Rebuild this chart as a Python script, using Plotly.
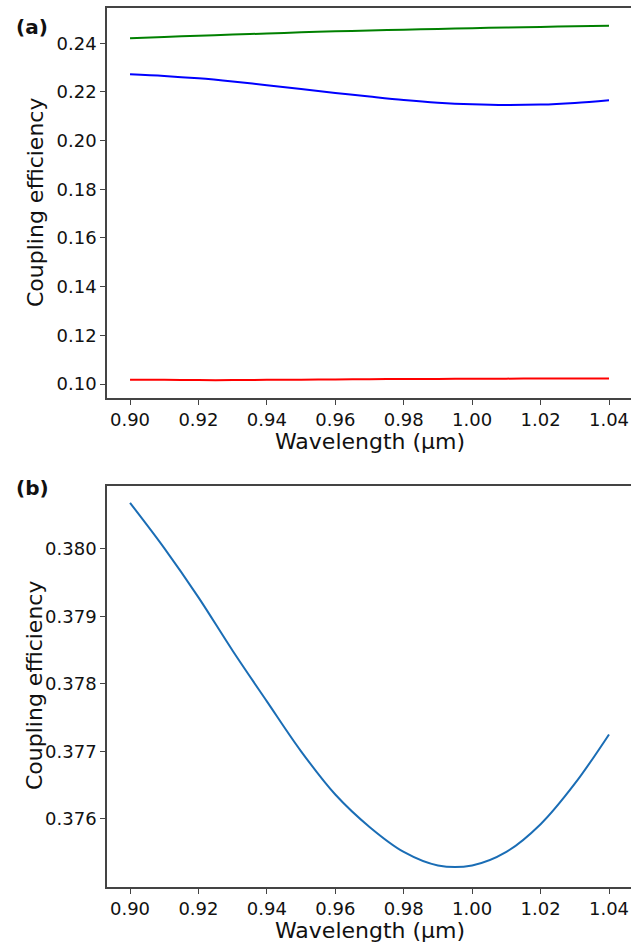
import plotly.graph_objects as go

# Panel (a): coupling efficiency of three channels vs wavelength
wl_a = [0.90, 0.91, 0.92, 0.93, 0.94, 0.95, 0.96, 0.97, 0.98, 0.99, 1.00, 1.01, 1.02, 1.03, 1.04]
green_a = [0.2421, 0.2426, 0.2431, 0.2436, 0.2440, 0.2445, 0.2449, 0.2453, 0.2456, 0.2459,
           0.2462, 0.2465, 0.2467, 0.2470, 0.2472]
blue_a = [0.2273, 0.2266, 0.2256, 0.2243, 0.2228, 0.2212, 0.2196, 0.2181, 0.2167, 0.2156,
          0.2149, 0.2146, 0.2148, 0.2155, 0.2166]
red_a = [0.1018, 0.1017, 0.1016, 0.1016, 0.1017, 0.1018, 0.1019, 0.1020, 0.1021, 0.1021,
         0.1022, 0.1022, 0.1023, 0.1023, 0.1023]

# Panel (b): single coupling-efficiency curve
wl_b = [0.90, 0.91, 0.92, 0.93, 0.94, 0.95, 0.96, 0.97, 0.98, 0.99, 1.00, 1.01, 1.02, 1.03, 1.04]
eff_b = [0.38068, 0.38001, 0.37928, 0.37849, 0.37774, 0.37700, 0.37636, 0.37588, 0.37551,
         0.37531, 0.37531, 0.37551, 0.37592, 0.37652, 0.37725]

x_ticks = [0.90, 0.92, 0.94, 0.96, 0.98, 1.00, 1.02, 1.04]
y_ticks_a = [0.10, 0.12, 0.14, 0.16, 0.18, 0.20, 0.22, 0.24]
y_ticks_b = [0.376, 0.377, 0.378, 0.379, 0.380]

W, H = 631, 948
FONT = "DejaVu Sans"

fig = go.Figure()
fig.add_trace(go.Scatter(x=wl_a, y=green_a, mode="lines", line=dict(color="#008000", width=2, shape="spline"),
                         xaxis="x", yaxis="y", showlegend=False))
fig.add_trace(go.Scatter(x=wl_a, y=blue_a, mode="lines", line=dict(color="#0000ff", width=2, shape="spline"),
                         xaxis="x", yaxis="y", showlegend=False))
fig.add_trace(go.Scatter(x=wl_a, y=red_a, mode="lines", line=dict(color="#ff0000", width=2, shape="spline"),
                         xaxis="x", yaxis="y", showlegend=False))
fig.add_trace(go.Scatter(x=wl_b, y=eff_b, mode="lines", line=dict(color="#1a6db5", width=2, shape="spline"),
                         xaxis="x2", yaxis="y2", showlegend=False))


def px_y(py):
    return (H - py) / H


x_dom = [107 / W, 1.0]
x_rng = [0.89327, 1.04643]

common_x = dict(range=x_rng, domain=x_dom, tickmode="array", tickvals=x_ticks, tickformat=".2f",
                ticks="outside", ticklen=5, tickwidth=1.2, tickcolor="#444",
                showline=True, linecolor="#444", linewidth=1.5, mirror=True,
                showgrid=False, zeroline=False, tickfont=dict(family=FONT, size=18, color="#111"))
common_y = dict(ticks="outside", ticklen=5, tickwidth=1.2, tickcolor="#444",
                showline=True, linecolor="#444", linewidth=1.5, mirror=False,
                showgrid=False, zeroline=False, tickfont=dict(family=FONT, size=18, color="#111"))

fig.update_layout(
    width=W, height=H,
    margin=dict(l=0, r=0, t=0, b=0),
    paper_bgcolor="white", plot_bgcolor="white",
    font=dict(family=FONT, color="#111"),
    xaxis=dict(common_x, anchor="y"),
    yaxis=dict(common_y, domain=[px_y(398), px_y(8)], range=[0.09425, 0.2545],
               tickmode="array", tickvals=y_ticks_a, tickformat=".2f", anchor="x"),
    xaxis2=dict(common_x, anchor="y2"),
    yaxis2=dict(common_y, domain=[px_y(887), px_y(486)], range=[0.37499, 0.38093],
                tickmode="array", tickvals=y_ticks_b, tickformat=".3f", anchor="x2"),
)

label_font = dict(family=FONT, size=22, color="#111")
annotations = [
    dict(text="Coupling efficiency", x=35 / W, y=px_y(203), textangle=-90, font=label_font),
    dict(text="Wavelength (µm)", x=370 / W, y=px_y(442), font=label_font),
    dict(text="Coupling efficiency", x=35 / W, y=px_y(686), textangle=-90, font=label_font),
    dict(text="Wavelength (µm)", x=370 / W, y=px_y(930), font=label_font),
    dict(text="<b>(a)</b>", x=32 / W, y=px_y(27), font=dict(family=FONT, size=20, color="#111")),
    dict(text="<b>(b)</b>", x=32 / W, y=px_y(488), font=dict(family=FONT, size=20, color="#111")),
]
for a in annotations:
    a.update(xref="paper", yref="paper", showarrow=False, xanchor="center", yanchor="middle")
fig.update_layout(annotations=annotations)

fig.write_html("out.html")
